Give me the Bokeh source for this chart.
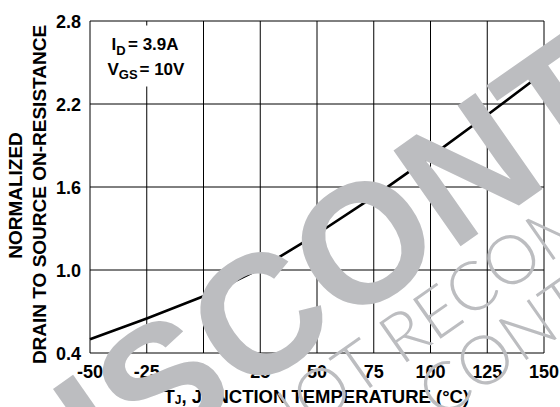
import math
from bokeh.plotting import figure
from bokeh.models import Label, BoxAnnotation, FixedTicker, Range1d
from bokeh.embed import file_html
from bokeh.resources import INLINE

# ---- data ----
temps = [-50, -25, 0, 25, 50, 75, 100, 125, 150]
rds_norm = [0.50, 0.65, 0.81, 1.01, 1.26, 1.53, 1.82, 2.12, 2.43]
x_ticks = [-50, -25, 0, 25, 50, 75, 100, 125, 150]
x_tick_labels = ["-50", "-25", "0", "25", "50", "75", "100", "125", "150"]
y_ticks = [0.4, 1.0, 1.6, 2.2, 2.8]
y_tick_labels = ["0.4", "1.0", "1.6", "2.2", "2.8"]

FONT = "Liberation Sans"
WM = "#bcbdc0"
W, H = 560, 407
# plot area in page pixels
L, R, T, B = 89.5, 543.5, 20.5, 352.5

def fx(X):
    return x_ticks[0] + (X - L) * (x_ticks[-1] - x_ticks[0]) / (R - L)

def fy(Y):
    return y_ticks[0] + (B - Y) * (y_ticks[-1] - y_ticks[0]) / (B - T)

p = figure(width=W, height=H, x_range=Range1d(fx(0), fx(W)), y_range=Range1d(fy(H), fy(0)),
           output_backend="svg", toolbar_location=None, title=None, min_border=0)
p.background_fill_color = "white"
p.border_fill_color = "white"
p.outline_line_color = None
p.xgrid.visible = False
p.ygrid.visible = False

p.xaxis.ticker = FixedTicker(ticks=x_ticks)
p.yaxis.ticker = FixedTicker(ticks=y_ticks)
p.xaxis.major_label_overrides = dict(zip(x_ticks, x_tick_labels))
p.yaxis.major_label_overrides = dict(zip(y_ticks, y_tick_labels))
p.xaxis.fixed_location = y_ticks[0]
p.yaxis.fixed_location = x_ticks[0]
for ax in (p.xaxis, p.yaxis):
    ax.axis_line_color = None
    ax.major_tick_line_color = None
    ax.minor_tick_line_color = None
    ax.major_tick_out = 0
    ax.major_tick_in = 0
    ax.major_label_text_font = FONT
    ax.major_label_text_font_style = "bold"
    ax.major_label_text_font_size = "18px"
    ax.major_label_text_color = "black"
p.xaxis.major_label_standoff = 12
p.yaxis.major_label_standoff = 9

# grid lines / frame of the plot area
nx, ny = len(x_ticks), len(y_ticks)
p.segment(x0=x_ticks, y0=[y_ticks[0]] * nx, x1=x_ticks, y1=[y_ticks[-1]] * nx,
          line_color="black", line_width=1)
p.segment(x0=[x_ticks[0]] * ny, y0=y_ticks, x1=[x_ticks[-1]] * ny, y1=y_ticks,
          line_color="black", line_width=1)

p.line(temps, rds_norm, line_color="black", line_width=2.6, line_join="round")

# white box behind the condition text
p.add_layout(BoxAnnotation(left=fx(100), right=fx(195), top=fy(25), bottom=fy(86),
                           fill_color="white", fill_alpha=1.0, line_color=None))

K = 0.26  # baseline correction (fraction of font size)

def lab(X, Y, text, size, style="bold", align="left", baseline="alphabetic", angle=0, color="black", font=FONT):
    if baseline == "alphabetic":
        s = float(size.replace("px", "")) * K
        a = math.radians(angle)
        X += -math.sin(a) * s
        Y += -math.cos(a) * s
    p.add_layout(Label(x=fx(X), y=fy(Y), text=text, text_font=font, text_font_size=size,
                       text_font_style=style, text_align=align, text_baseline=baseline,
                       angle=angle, angle_units="deg", text_color=color))

# condition text
lab(111, 48, "I", "17px")
lab(115.7, 53, "D", "13px")
lab(127.5, 48, " = 3.9A", "17px")
lab(107, 73, "V", "17px")
lab(118.3, 77.5, "GS", "13px")
lab(139, 73, " = 10V", "17px")

# axis titles
lab(14.5, 195, "NORMALIZED", "19px", align="center", baseline="middle", angle=90)
lab(38.5, 194, "DRAIN TO SOURCE ON-RESISTANCE", "19px", align="center", baseline="middle", angle=90)
lab(163, 400.5, "T", "18.5px")
lab(174.3, 403, "J", "12px")
lab(181, 400.5, ", JUNCTION TEMPERATURE (°C)", "18.5px")

# watermark
lab(1.2, 549.0, "DISCONTINUED", "170px", angle=35, color=WM)
lab(265.8, 449.3, "NOT RECOMMENDED FOR NEW DESIGN", "68px", style="normal", angle=35, color=WM, font="Lato Light")
lab(433.9, 413.1, "CONTACT OUR TECHNICAL SUPPORT CENTER", "68px", style="normal", angle=35, color=WM, font="Lato Light")

open("out.html", "w").write(file_html(p, INLINE))
